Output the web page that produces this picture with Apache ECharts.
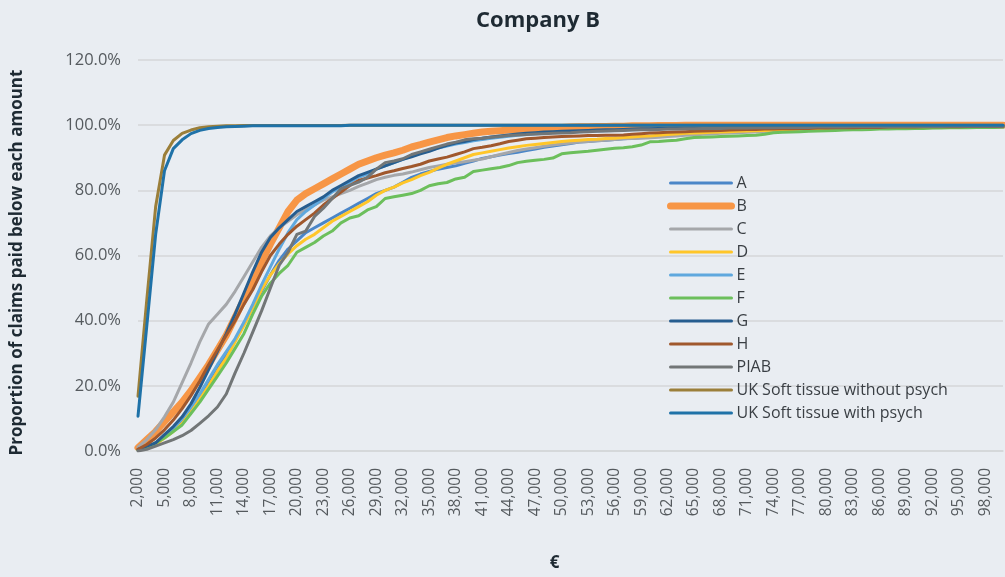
<!DOCTYPE html>
<html><head><meta charset="utf-8">
<script src="https://cdn.jsdelivr.net/npm/echarts@6/dist/echarts.min.js"></script>
<style>html,body{margin:0;padding:0;background:#e9edf2;}#c{width:1005px;height:577px;}</style>
</head><body><div id="c"></div>
<script>
const categories = ['2,000','3,000','4,000','5,000','6,000','7,000','8,000','9,000','10,000','11,000','12,000','13,000','14,000','15,000','16,000','17,000','18,000','19,000','20,000','21,000','22,000','23,000','24,000','25,000','26,000','27,000','28,000','29,000','30,000','31,000','32,000','33,000','34,000','35,000','36,000','37,000','38,000','39,000','40,000','41,000','42,000','43,000','44,000','45,000','46,000','47,000','48,000','49,000','50,000','51,000','52,000','53,000','54,000','55,000','56,000','57,000','58,000','59,000','60,000','61,000','62,000','63,000','64,000','65,000','66,000','67,000','68,000','69,000','70,000','71,000','72,000','73,000','74,000','75,000','76,000','77,000','78,000','79,000','80,000','81,000','82,000','83,000','84,000','85,000','86,000','87,000','88,000','89,000','90,000','91,000','92,000','93,000','94,000','95,000','96,000','97,000','98,000','99,000','100,000'];

const seriesA = [0.3,1.0,2.5,4.5,6.5,9.5,13.0,16.5,20.5,25.0, 29.5,34.0,39.0,44.0,49.0,54.0,58.5,62.0,64.5,67.0, 68.5,70.0,71.5,73.0,74.5,76.0,77.5,79.0,80.0,81.0, 82.5,84.0,85.0,85.8,86.5,87.0,87.5,88.3,89.0,89.8, 90.3,90.8,91.3,91.7,92.2,92.7,93.2,93.6,94.0,94.4, 94.8,95.0,95.2,95.4,95.6,95.8,96.0,96.2,96.4,96.6, 96.8,97.0,97.2,97.4,97.5,97.7,97.8,97.9,98.0,98.1, 98.2,98.3,98.4,98.5,98.6,98.7,98.8,98.8,98.9,99.0, 99.0,99.1,99.1,99.2,99.2,99.3,99.3,99.4,99.4,99.4, 99.5,99.5,99.5,99.6,99.6,99.6,99.7,99.7,99.7];
const seriesB = [1.0,3.5,6.0,9.0,12.0,15.0,18.5,22.5,26.5,31.0, 35.5,41.0,46.5,52.0,58.0,63.5,68.5,73.5,77.0,79.0, 80.5,82.0,83.5,85.0,86.5,88.0,89.0,90.0,90.8,91.5, 92.3,93.3,94.0,94.8,95.5,96.2,96.7,97.1,97.5,97.9, 98.1,98.3,98.5,98.7,98.9,99.0,99.1,99.2,99.3,99.4, 99.5,99.5,99.6,99.6,99.7,99.7,99.8,99.8,99.8,99.9, 99.9,99.9,100,100,100,100,100,100,100,100, 100,100,100,100,100,100,100,100,100,100, 100,100,100,100,100,100,100,100,100,100, 100,100,100,100,100,100,100,100,100];
const seriesC = [1.2,3.5,6.5,10.5,15.0,21.0,27.0,33.5,39.0,42.0, 45.0,49.0,53.5,58.0,62.5,66.0,68.5,70.5,72.5,74.0, 75.5,77.0,78.0,79.0,80.0,81.2,82.2,83.3,84.0,84.6, 85.0,85.6,86.3,87.0,87.5,88.0,88.4,88.8,89.2,89.6, 90.3,91.0,91.6,92.2,92.7,93.1,93.5,93.9,94.2,94.5, 94.8,95.0,95.2,95.4,95.6,95.8,95.9,96.0,96.1,96.3, 96.5,96.7,96.9,97.0,97.2,97.3,97.5,97.6,97.7,97.8, 97.9,98.0,98.1,98.2,98.3,98.4,98.5,98.6,98.7,98.8, 98.8,98.9,98.9,99.0,99.0,99.1,99.1,99.1,99.2,99.2, 99.2,99.3,99.3,99.3,99.3,99.4,99.4,99.4,99.4];
const seriesD = [0.3,0.8,2.0,4.0,6.0,8.5,12.0,16.0,20.0,24.5, 28.5,33.5,38.5,44.0,49.5,54.0,57.5,60.5,63.0,65.0, 66.5,68.5,70.5,72.0,73.5,75.0,76.5,78.5,80.0,81.0, 82.3,83.3,84.5,85.5,86.8,88.0,89.0,90.0,91.0,91.5, 92.0,92.5,93.0,93.4,93.8,94.1,94.4,94.7,95.0,95.2, 95.4,95.6,95.7,95.9,96.0,96.2,96.4,96.6,96.7,96.9, 97.1,97.3,97.5,97.6,97.7,97.8,97.9,98.0,98.1,98.2, 98.3,98.4,98.5,98.6,98.7,98.8,98.9,98.9,99.0,99.0, 99.1,99.1,99.2,99.2,99.3,99.3,99.3,99.4,99.4,99.4, 99.5,99.5,99.5,99.6,99.6,99.6,99.7,99.7,99.7];
const seriesE = [0.3,1.0,2.5,4.5,7.0,10.0,13.5,17.5,22.0,26.5, 30.5,34.5,39.5,45.0,51.0,56.5,62.0,67.0,71.0,73.5, 75.5,77.5,79.5,81.0,82.5,84.0,85.0,86.5,87.5,88.5, 89.5,90.5,91.5,92.3,93.0,93.6,94.2,94.7,95.2,95.6, 96.0,96.3,96.6,96.9,97.1,97.3,97.5,97.7,97.8,97.9, 98.0,98.1,98.2,98.3,98.4,98.5,98.6,98.7,98.8,98.9, 99.0,99.0,99.1,99.1,99.2,99.2,99.3,99.3,99.3,99.4, 99.4,99.4,99.5,99.5,99.5,99.5,99.6,99.6,99.6,99.6, 99.6,99.7,99.7,99.7,99.7,99.7,99.7,99.8,99.8,99.8, 99.8,99.8,99.8,99.8,99.8,99.8,99.8,99.8,99.8];
const seriesF = [0.3,1.0,2.5,4.0,6.0,8.0,11.5,15.0,19.0,23.0, 27.0,31.5,36.0,42.0,47.5,51.5,54.5,57.0,61.0,62.5, 64.0,66.0,67.5,70.0,71.5,72.2,74.0,75.0,77.5,78.0, 78.5,79.0,80.0,81.4,82.0,82.4,83.5,84.0,85.8,86.2, 86.6,87.0,87.6,88.5,88.9,89.2,89.5,89.9,91.2,91.5, 91.8,92.0,92.3,92.6,92.9,93.1,93.4,93.9,94.9,95.0, 95.2,95.4,95.8,96.2,96.3,96.4,96.5,96.6,96.7,96.8, 96.9,97.2,97.7,97.8,97.9,98.0,98.1,98.2,98.3,98.4, 98.5,98.6,98.6,98.7,98.8,98.8,98.9,98.9,99.0,99.0, 99.1,99.1,99.2,99.2,99.2,99.3,99.3,99.3,99.4];
const seriesG = [0.5,1.5,2.5,5.0,7.5,10.5,14.5,19.5,25.0,30.5, 36.0,42.0,48.5,55.0,61.0,65.5,68.5,71.0,73.5,75.0, 76.5,78.0,80.0,81.5,83.0,84.5,85.5,86.5,87.5,88.5, 89.5,90.3,91.2,92.0,93.0,93.8,94.5,95.0,95.6,96.0, 96.4,96.7,97.0,97.3,97.5,97.7,97.9,98.0,98.1,98.2, 98.3,98.4,98.5,98.6,98.6,98.7,98.8,98.9,98.9,99.0, 99.0,99.1,99.1,99.2,99.2,99.3,99.3,99.3,99.4,99.4, 99.4,99.5,99.5,99.5,99.5,99.6,99.6,99.6,99.6,99.7, 99.7,99.7,99.7,99.7,99.8,99.8,99.8,99.8,99.8,99.8, 99.8,99.9,99.9,99.9,99.9,99.9,99.9,99.9,99.9];
const seriesH = [0.5,2.0,4.0,6.5,9.5,13.0,17.0,21.5,26.5,31.0, 35.5,40.0,45.0,49.5,55.0,60.0,63.5,66.5,69.0,71.0, 73.0,75.5,77.5,79.5,81.5,83.0,83.8,84.5,85.4,86.0, 86.7,87.3,88.0,89.0,89.6,90.2,91.0,91.8,92.8,93.2, 93.7,94.3,95.0,95.4,95.8,96.0,96.2,96.4,96.5,96.6, 96.7,96.8,96.8,96.9,96.9,97.0,97.2,97.4,97.6,97.7, 97.8,97.9,98.0,98.1,98.2,98.3,98.4,98.5,98.6,98.7, 98.7,98.8,98.8,98.9,98.9,99.0,99.0,99.1,99.1,99.2, 99.2,99.2,99.3,99.3,99.3,99.4,99.4,99.4,99.4,99.5, 99.5,99.5,99.5,99.5,99.6,99.6,99.6,99.6,99.6];
const seriesPIAB = [0.0,0.5,1.5,2.5,3.5,4.7,6.3,8.5,10.8,13.5, 17.5,24.0,30.0,36.5,43.0,50.0,57.0,61.0,66.5,67.5, 72.0,74.5,77.5,80.5,81.5,82.5,84.0,86.5,88.5,89.0, 89.7,91.0,91.8,92.6,93.4,94.2,94.8,95.5,95.8,96.0, 96.3,96.5,96.8,97.0,97.1,97.3,97.4,97.5,97.6,97.7, 97.9,98.0,98.1,98.2,98.3,98.4,98.5,98.6,98.6,98.7, 98.8,98.8,98.9,98.9,99.0,99.0,99.0,99.1,99.1,99.1, 99.2,99.2,99.2,99.3,99.3,99.3,99.3,99.4,99.4,99.4, 99.4,99.5,99.5,99.5,99.5,99.5,99.6,99.6,99.6,99.6, 99.6,99.6,99.7,99.7,99.7,99.7,99.7,99.7,99.7];
const seriesUKwo = [16.8,46.5,75.0,90.8,95.3,97.5,98.5,99.2,99.5,99.7, 99.8,99.8,99.9,99.9,99.9,99.9,99.9,99.9,99.9,99.9, 99.9,99.9,99.9,99.9,100,100,100,100,100,100, 100,100,100,100,100,100,100,100,100,100, 100,100,100,100,100,100,100,100,100,100, 100,100,100,100,100,100,100,100,100,100, 100,100,100,100,100,100,100,100,100,100, 100,100,100,100,100,100,100,100,100,100, 100,100,100,100,100,100,100,100,100,100, 100,100,100,100,100,100,100,100,100];
const seriesUKw = [10.7,38.5,66.5,86.0,92.8,95.5,97.4,98.4,99.0,99.3, 99.5,99.6,99.7,99.8,99.8,99.8,99.8,99.8,99.8,99.8, 99.8,99.8,99.8,99.8,100,100,100,100,100,100, 100,100,100,100,100,100,100,100,100,100, 100,100,100,100,100,100,100,100,100,100, 100,100,100,100,100,100,100,100,100,100, 100,100,100,100,100,100,100,100,100,100, 100,100,100,100,100,100,100,100,100,100, 100,100,100,100,100,100,100,100,100,100, 100,100,100,100,100,100,100,100,100];

const names = ['A','B','C','D','E','F','G','H','PIAB','UK Soft tissue without psych','UK Soft tissue with psych'];
const values = [seriesA,seriesB,seriesC,seriesD,seriesE,seriesF,seriesG,seriesH,seriesPIAB,seriesUKwo,seriesUKw];
const colors = ['#4a86c8','#f79646','#a5a7aa','#ffc629','#5fa8de','#6cbf5c','#265d8f','#a0582d','#727677','#9b7f3a','#1f72a8'];
const widths = [3,7,3,3,3,3,3,3,3,3,3];

const FONT = '"Open Sans", Lato, sans-serif';
const chart = echarts.init(document.getElementById('c'), null, {renderer:'canvas'});
chart.setOption({
  backgroundColor: '#e9edf2',
  animation: false,
  title: {
    text: 'Company B', left: 533, top: 5, textAlign: 'center',
    textStyle: {fontFamily: FONT, fontSize: 22, fontWeight: 'bold', color: '#1e2a33'}
  },
  legend: {
    orient: 'vertical', left: 667, top: 172, padding: 0,
    itemWidth: 61, itemHeight: 14, itemGap: 1,
    data: names.map((n, k) => ({name: n, lineStyle: {width: widths[k], cap: 'round', color: colors[k]}})),
    itemStyle: {opacity: 0},
    textStyle: {fontFamily: FONT, fontSize: 16, color: '#3a3f44', lineHeight: 22}
  },
  grid: {left: 138, right: 2, top: 60, bottom: 118, containLabel: false},
  xAxis: {
    type: 'category', data: categories, boundaryGap: false,
    name: '€', nameLocation: 'middle', nameGap: 104,
    nameTextStyle: {fontFamily: FONT, fontSize: 17, fontWeight: 'bold', color: '#1e2a33', padding: [0, 32, 0, 0]},
    axisLine: {lineStyle: {color: '#d4d6d9', width: 1.5}},
    axisTick: {show: false},
    axisLabel: {interval: 2, rotate: 90, fontFamily: FONT, fontSize: 15.5, color: '#555a5e', margin: 17}
  },
  yAxis: {
    type: 'value', min: 0, max: 120, interval: 20,
    name: 'Proportion of claims paid below each amount', nameLocation: 'middle', nameGap: 112,
    nameTextStyle: {fontFamily: FONT, fontSize: 17, fontWeight: 'bold', color: '#1e2a33', padding: [0, 14, 0, 0]},
    axisLine: {show: false}, axisTick: {show: false},
    splitLine: {lineStyle: {color: '#d4d6d9', width: 1.5}},
    axisLabel: {formatter: v => v.toFixed(1) + '%', fontFamily: FONT, fontSize: 16.5, color: '#555a5e', margin: 17}
  },
  series: names.map((n, k) => ({
    name: n, type: 'line', data: values[k], symbol: 'none', smooth: false,
    lineStyle: {color: colors[k], width: widths[k], cap: 'round', join: 'round'},
    itemStyle: {color: colors[k]}
  }))
});
</script></body></html>
